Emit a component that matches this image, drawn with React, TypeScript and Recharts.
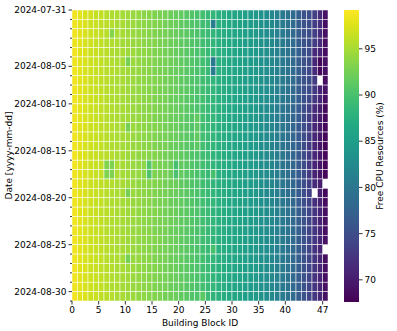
import React from 'react';
import { ScatterChart, Scatter, XAxis, YAxis, BarChart, Bar } from 'recharts';

const COLUMNS: number[] = Array.from({ length: 48 }, (_, i) => i);
const X_TICKS = [0, 5, 10, 15, 20, 25, 30, 35, 40, 47];
const Y_TICK_INDEX = [0, 6, 10, 15, 20, 25, 30];
const Y_TICK_LABELS = ['2024-07-31', '2024-08-05', '2024-08-10', '2024-08-15', '2024-08-20', '2024-08-25', '2024-08-30'];
const CB_TICKS = [70, 75, 80, 85, 90, 95];
const VMIN = 67.6;
const VMAX = 99.2;

const R00 = [98.6,97.9,97.2,96.9,96.4,96.3,95.7,95.4,95.3,94.9,94.7,94.3,94.2,93.7,93.6,93.1,92.8,92.7,92.1,91.8,91.6,91.0,90.7,90.1,89.7,88.9,88.4,87.6,87.3,86.6,86.3,85.6,85.3,84.7,84.4,83.5,83.1,82.1,81.4,80.4,79.6,78.4,77.1,75.4,75.1,73.6,71.6,69.2];
const R01 = [98.4,97.7,97.4,96.7,96.6,96.1,95.9,95.6,95.1,95.1,94.5,94.5,94.0,93.9,93.4,93.3,93.0,92.5,92.3,92.0,91.4,91.2,90.5,90.3,89.5,89.1,81.0,87.8,87.1,86.8,86.1,85.8,85.1,84.9,84.2,83.7,82.9,82.3,81.2,80.6,79.4,78.6,76.9,75.6,74.9,73.4,71.9,68.9];
const R02 = [98.5,97.8,97.3,96.8,96.5,96.2,95.8,93.4,95.2,95.0,94.6,94.4,94.1,93.8,93.5,93.2,92.9,92.6,92.2,91.9,91.5,91.1,90.6,90.2,89.6,89.0,88.3,87.7,87.2,86.7,86.2,85.7,85.2,84.8,84.3,83.6,83.0,82.2,81.3,80.5,79.5,78.5,77.0,75.5,75.0,73.5,71.5,69.0];
const R03 = [98.3,97.9,97.2,96.9,96.4,96.2,95.7,95.5,95.3,94.8,94.7,94.3,94.2,93.7,93.4,93.3,92.8,92.7,92.1,92.0,91.4,91.2,90.5,90.3,89.5,89.1,88.2,87.8,87.1,86.8,86.1,85.8,85.1,84.9,84.2,83.7,82.9,82.3,81.2,80.6,79.4,78.6,76.9,75.6,74.9,73.4,71.7,69.1];
const R04 = [98.6,97.7,97.4,96.7,96.6,96.1,95.9,95.4,95.1,95.1,94.5,94.5,94.0,93.9,93.6,93.1,93.0,92.5,92.3,91.8,91.6,91.0,90.7,90.1,89.7,88.9,88.4,87.6,87.3,86.6,86.3,85.6,85.3,84.7,84.4,83.5,83.1,82.1,81.4,80.4,79.6,78.4,77.1,75.4,74.8,71.5,70.8,68.8];
const R05 = [98.4,97.8,97.3,96.8,96.5,96.2,95.8,95.5,95.2,95.0,92.6,94.4,94.1,93.8,93.5,93.2,92.9,92.6,92.2,91.9,91.5,91.1,90.6,90.2,89.6,89.0,80.5,87.7,87.2,86.7,86.2,85.7,85.2,84.8,84.3,83.6,83.0,82.2,81.3,80.5,79.5,78.5,77.0,75.5,74.7,71.2,68.2,69.0];
const R06 = [98.5,97.9,97.2,96.9,96.4,96.3,95.7,95.6,95.3,94.9,94.7,94.3,94.2,93.7,93.6,93.1,92.8,92.7,92.1,91.8,91.6,91.0,90.7,90.1,89.7,88.9,80.8,87.6,87.3,86.6,86.3,85.6,85.3,84.7,84.4,83.5,83.1,82.1,81.4,80.4,79.6,78.4,77.1,75.4,74.6,71.4,68.4,68.8];
const R07 = [98.6,97.7,97.4,96.7,96.6,96.1,95.9,95.4,95.1,95.1,94.5,94.5,94.0,93.9,93.4,93.3,93.0,92.5,92.3,92.0,91.4,91.2,90.5,90.3,89.5,89.1,88.2,87.8,87.1,86.8,86.1,85.8,85.1,84.9,84.2,83.7,82.9,82.3,81.2,80.6,79.4,78.6,76.9,75.6,74.9,73.2,null,68.7];
const R08 = [98.4,97.8,97.3,96.8,96.5,96.2,95.8,95.5,95.2,95.0,94.6,94.4,94.1,93.8,93.5,93.2,92.9,92.6,92.2,91.9,91.5,91.1,90.6,90.2,89.6,89.0,88.3,87.7,87.2,86.7,86.2,85.7,85.2,84.8,84.3,83.6,83.0,82.2,81.3,80.5,79.5,78.5,77.0,75.5,74.8,73.0,70.9,69.2];
const R09 = [98.5,97.9,97.2,96.9,96.4,96.3,95.7,95.4,95.3,94.9,94.7,94.3,94.2,93.7,93.6,93.1,92.8,92.7,92.1,91.8,91.6,91.0,90.7,90.1,89.7,88.9,88.4,87.6,87.3,86.6,86.3,85.6,85.3,84.7,84.4,83.5,83.1,82.1,81.4,80.4,79.6,78.4,77.1,75.4,74.5,72.8,71.2,68.9];
const R10 = [98.5,97.8,97.3,96.8,96.5,96.2,95.8,95.5,95.2,95.0,94.6,94.4,94.1,93.8,93.5,93.2,92.9,92.6,92.2,91.9,91.5,91.1,90.6,90.2,89.6,89.0,88.3,87.7,87.2,86.7,86.2,85.7,85.2,84.8,84.3,83.3,82.6,81.8,80.9,80.0,79.0,78.0,76.6,75.0,73.6,71.6,70.2,68.4];
const R11 = [98.4,97.9,97.2,96.9,96.4,96.3,95.7,95.4,95.3,94.9,94.7,94.3,94.2,93.7,93.6,93.1,92.8,92.7,92.1,91.8,91.6,91.0,90.7,91.4,89.7,88.9,88.4,87.6,87.3,86.6,86.3,85.6,85.3,84.7,84.4,83.2,82.7,81.7,81.0,79.9,79.1,77.9,76.7,74.9,73.4,71.4,70.0,68.3];
const R12 = [98.6,97.7,97.4,96.7,96.6,96.1,95.9,95.6,95.1,95.1,92.6,94.5,94.0,93.9,93.4,93.3,93.0,92.5,92.3,92.0,91.4,91.2,90.5,91.3,89.5,89.1,88.2,87.8,87.1,86.8,86.1,85.8,85.1,84.9,84.2,83.4,82.5,81.9,80.8,80.1,78.9,78.1,76.5,75.1,73.5,71.3,69.8,68.2];
const R13 = [98.5,97.8,97.3,96.8,96.5,96.2,95.8,95.5,95.2,95.0,94.6,94.4,94.1,93.8,93.5,93.2,92.9,92.6,92.2,91.9,91.5,91.1,90.6,91.4,89.6,89.0,88.3,87.7,87.2,86.7,86.2,85.7,85.2,84.8,84.3,83.3,82.6,81.8,80.9,80.0,79.0,78.0,76.6,75.0,73.3,71.2,69.6,68.1];
const R14 = [98.4,97.9,97.2,96.9,96.4,96.3,95.7,95.4,95.3,94.9,94.7,94.3,94.2,93.7,93.6,93.1,92.8,92.7,92.1,91.8,91.6,91.0,90.7,91.2,89.7,88.9,88.4,87.6,87.3,86.6,86.3,85.6,85.3,84.7,84.4,83.2,82.7,81.7,81.0,79.9,79.1,77.9,76.7,74.9,73.2,71.0,69.5,68.0];
const R15 = [98.6,97.7,97.4,96.7,96.6,96.1,95.9,95.6,95.1,95.1,94.5,94.5,94.0,93.9,93.4,93.3,93.0,92.5,92.3,92.0,91.4,91.2,90.5,90.3,89.5,89.1,88.2,87.8,87.1,86.8,86.1,85.8,85.1,84.9,84.2,83.4,82.5,81.9,80.8,80.1,78.9,78.1,76.5,75.1,73.4,71.2,69.7,68.2];
const R16 = [98.5,97.8,97.3,96.8,96.5,96.2,93.2,93.0,95.2,95.0,94.6,94.4,94.1,93.8,90.6,93.2,92.9,92.6,92.2,89.8,91.5,91.1,90.6,90.2,89.6,89.0,88.3,87.7,87.2,86.7,86.2,85.7,85.2,84.8,84.3,83.3,82.6,81.8,80.9,80.0,79.0,78.0,76.6,75.0,73.0,70.9,69.5,68.0];
const R17 = [98.4,97.9,97.2,96.9,96.4,96.3,93.0,93.1,95.3,94.9,94.7,94.3,94.2,93.7,90.4,93.1,92.8,92.7,92.1,90.0,91.6,91.0,90.7,90.1,89.7,88.9,89.9,87.6,87.3,86.6,86.3,85.6,85.3,84.7,84.4,83.2,82.7,81.7,81.0,79.9,79.1,77.9,76.7,74.9,73.1,70.8,69.4,68.1];
const R18 = [98.6,97.7,97.4,96.7,96.6,96.1,95.9,95.6,95.1,95.1,94.5,94.5,94.0,93.9,93.4,93.3,93.0,92.5,92.3,92.0,91.4,91.2,90.5,90.3,89.5,89.1,88.2,87.8,87.1,86.8,86.1,85.8,85.1,84.9,84.2,83.4,82.5,81.9,80.8,80.1,78.9,78.1,76.5,75.1,73.5,71.5,70.1,null];
const R19 = [98.5,97.8,97.3,96.8,96.5,96.2,95.8,95.5,95.2,95.0,92.7,94.4,94.1,93.8,93.5,93.2,92.9,92.6,92.2,91.9,91.5,91.1,90.6,90.2,89.6,89.0,88.3,87.7,87.2,86.7,86.2,85.7,85.2,84.8,84.3,83.3,82.6,81.8,80.9,80.0,79.0,78.0,76.6,75.0,73.6,null,70.4,68.3];
const R20 = [98.4,97.9,97.2,96.9,96.4,96.3,95.7,95.4,95.3,94.9,94.7,94.3,94.2,93.7,93.6,93.1,92.8,92.7,92.1,91.8,91.6,91.0,90.7,90.1,89.7,88.9,88.4,87.6,87.3,86.6,86.3,85.6,85.3,84.7,84.4,83.4,82.8,81.9,81.1,80.2,79.3,78.2,76.8,75.2,73.8,72.0,70.6,68.5];
const R21 = [98.6,97.7,97.4,96.7,96.6,96.1,95.9,95.6,95.1,95.1,94.5,94.5,94.0,93.9,93.4,93.3,93.0,92.5,92.3,92.0,91.4,91.2,90.5,90.3,89.5,89.1,88.2,87.8,87.1,86.8,86.1,85.8,85.1,84.9,84.2,83.7,82.9,82.3,81.2,80.6,79.4,78.6,76.9,75.6,74.1,72.6,71.0,68.9];
const R22 = [98.5,97.8,97.3,96.8,96.5,96.2,95.8,95.5,95.2,95.0,94.6,94.4,94.1,93.8,93.5,93.2,92.9,92.6,92.2,91.9,91.5,91.1,90.6,90.2,89.6,89.0,88.3,87.7,87.2,86.7,86.2,85.7,85.2,84.8,84.3,83.6,83.0,82.2,81.3,80.5,79.5,78.5,77.0,75.5,73.9,72.4,70.8,69.0];
const R23 = [98.4,97.9,97.2,96.9,96.4,96.3,95.7,95.4,95.3,94.9,94.7,94.3,94.2,93.7,93.6,93.1,92.8,92.7,92.1,91.8,91.6,91.0,90.7,90.1,89.7,88.9,88.4,87.6,87.3,86.6,86.3,85.6,85.3,84.7,84.4,83.5,83.1,82.1,81.4,80.4,79.6,78.4,77.1,75.4,74.0,72.5,71.1,68.8];
const R24 = [98.6,97.7,97.4,96.7,96.6,96.1,95.9,95.6,95.1,95.1,94.5,94.5,94.0,93.9,93.4,93.3,93.0,92.5,92.3,92.0,91.4,91.2,90.5,90.3,89.5,89.1,88.2,87.8,87.1,86.8,86.1,85.8,85.1,84.9,84.2,83.7,82.9,82.3,81.2,80.6,79.4,78.6,76.9,75.6,74.2,72.7,71.2,69.1];
const R25 = [98.5,97.8,97.3,96.8,96.5,96.2,95.8,95.5,95.2,95.0,94.6,94.4,94.1,93.8,93.5,93.2,92.9,92.6,92.2,91.9,91.5,91.1,90.6,90.2,89.6,89.0,89.9,87.7,87.2,86.7,86.2,85.7,85.2,84.8,84.3,83.6,83.0,82.2,81.3,80.5,79.5,78.5,77.0,75.5,73.9,72.3,70.9,null];
const R26 = [98.4,97.9,97.2,96.9,96.4,96.3,95.7,95.4,95.3,94.9,92.6,94.3,94.2,93.7,93.6,93.1,92.8,92.7,92.1,91.8,91.6,91.0,90.7,90.1,89.7,88.9,88.4,87.6,87.3,86.6,86.3,85.6,85.3,84.7,84.4,83.5,83.1,82.1,81.4,80.4,79.6,78.4,77.1,75.4,74.0,72.5,71.0,68.9];
const R27 = [98.6,97.7,97.4,96.7,96.6,96.1,95.9,95.6,95.1,95.1,94.5,94.5,94.0,93.9,93.4,93.3,93.0,92.5,92.3,92.0,91.4,91.2,90.5,90.3,89.5,89.1,88.2,87.8,87.1,86.8,86.1,85.8,85.1,84.9,84.2,83.7,82.9,82.3,81.2,80.6,79.4,78.6,76.9,75.6,74.1,72.6,71.1,69.0];
const R28 = [98.5,97.8,97.3,96.8,96.5,96.2,95.8,95.5,95.2,95.0,94.6,94.4,94.1,93.8,93.5,93.2,92.9,92.6,92.2,91.9,91.5,91.1,90.6,90.2,89.6,89.0,88.3,87.7,87.2,86.7,86.2,85.7,85.2,84.8,84.3,83.6,83.0,82.2,81.3,80.5,79.5,78.5,77.0,75.5,73.9,72.4,70.9,68.8];
const R29 = [98.4,97.9,97.2,96.9,96.4,96.3,95.7,95.4,95.3,94.9,94.7,94.3,94.2,93.7,93.6,93.1,92.8,92.7,92.1,91.8,91.6,91.0,90.7,90.1,89.7,88.9,88.4,87.6,87.3,86.6,86.3,85.6,85.3,84.7,84.4,83.5,83.1,82.1,81.4,80.4,79.6,78.4,77.1,75.4,74.0,72.5,71.1,69.1];
const R30 = [98.6,97.7,97.4,96.7,96.6,96.1,95.9,95.6,95.1,95.1,94.5,94.5,94.0,93.9,93.4,93.3,93.0,92.5,92.3,92.0,91.4,91.2,90.5,90.3,91.2,89.1,88.2,87.8,87.1,86.8,86.1,85.8,85.1,84.9,84.2,83.7,82.9,82.3,81.2,80.6,79.4,78.6,76.9,75.6,74.2,72.7,71.2,69.0];

const ROWS: (number | null)[][] = [R00,R01,R02,R03,R04,R05,R06,R07,R08,R09,R10,R11,R12,R13,R14,R15,R16,R17,R18,R19,R20,R21,R22,R23,R24,R25,R26,R27,R28,R29,R30];

const VIRIDIS = ['#440154','#471365','#482475','#46337f','#414487','#3b528b','#355f8d','#2f6c8e','#2a788e','#25858e','#21918c','#1f9e89','#22a884','#2fb47c','#44bf70','#5ec962','#7ad151','#9bd93c','#bddf26','#dfe318','#fde725'];

function hexToRgb(h: string) {
  return [parseInt(h.slice(1, 3), 16), parseInt(h.slice(3, 5), 16), parseInt(h.slice(5, 7), 16)];
}
function viridis(v: number) {
  let t = (v - VMIN) / (VMAX - VMIN);
  t = Math.max(0, Math.min(1, t));
  const p = t * (VIRIDIS.length - 1);
  const i = Math.min(Math.floor(p), VIRIDIS.length - 2);
  const f = p - i;
  const a = hexToRgb(VIRIDIS[i]);
  const b = hexToRgb(VIRIDIS[i + 1]);
  const c = a.map((x, k) => Math.round(x + (b[k] - x) * f));
  return `rgb(${c[0]},${c[1]},${c[2]})`;
}

const cells: { x: number; y: number; v: number }[] = [];
ROWS.forEach((row, r) => {
  COLUMNS.forEach((c) => {
    const v = row[c];
    if (v !== null && v !== undefined) cells.push({ x: c + 0.5, y: r + 0.5, v });
  });
});

const FONT = 'DejaVu Sans, sans-serif';
const CHART_W = 340;
const CHART_H = 331;
const MARGIN = { top: 10, right: 12, bottom: 0, left: 10 };
const YAXIS_W = 62;
const XAXIS_H = 30;
const PLOT_W = CHART_W - MARGIN.left - MARGIN.right - YAXIS_W;
const PLOT_H = CHART_H - MARGIN.top - MARGIN.bottom - XAXIS_H;
const CELL_W = PLOT_W / COLUMNS.length;
const CELL_H = PLOT_H / ROWS.length;

const CellShape = (props: any) => {
  const { cx, cy, payload } = props;
  if (cx == null || cy == null) return null;
  return (
    <rect
      x={cx - CELL_W / 2}
      y={cy - CELL_H / 2}
      width={CELL_W}
      height={CELL_H}
      fill={viridis(payload.v)}
      stroke="#ffffff"
      strokeOpacity={0.85}
      strokeWidth={0.6}
    />
  );
};

const YTick = (props: any) => {
  const { x, y, payload } = props;
  const idx = Y_TICK_INDEX.indexOf(payload.value);
  const label = idx >= 0 ? Y_TICK_LABELS[idx] : '';
  const len = label ? 3.5 : 2;
  return (
    <g>
      <line x1={x} x2={x - len} y1={y} y2={y} stroke="#000" strokeWidth={0.8} />
      {label && (
        <text x={x - 5.5} y={y} dy="0.35em" textAnchor="end" fontSize={9} fontFamily={FONT} fill="#000">
          {label}
        </text>
      )}
    </g>
  );
};

const XTick = (props: any) => {
  const { x, y, payload } = props;
  return (
    <g>
      <line x1={x} x2={x} y1={y} y2={y + 3.5} stroke="#000" strokeWidth={0.8} />
      <text x={x} y={y + 5.5} dy="0.75em" textAnchor="middle" fontSize={9} fontFamily={FONT} fill="#000">
        {payload.value}
      </text>
    </g>
  );
};

const CbTick = (props: any) => {
  const { x, y, payload } = props;
  return (
    <g>
      <line x1={x} x2={x + 3.5} y1={y} y2={y} stroke="#000" strokeWidth={0.8} />
      <text x={x + 5.5} y={y} dy="0.35em" textAnchor="start" fontSize={9} fontFamily={FONT} fill="#000">
        {payload.value}
      </text>
    </g>
  );
};

const CB_DATA = [{ k: 'cb', v: [VMIN, VMAX] }];

export default function App() {
  return (
    <div style={{ position: 'absolute', left: 0, top: 0, width: 397, height: 331, background: '#fff' }}>
      <div style={{ position: 'absolute', left: 0, top: 0 }}>
        <ScatterChart width={CHART_W} height={CHART_H} margin={MARGIN}>
          <XAxis
            type="number"
            dataKey="x"
            domain={[0, 48]}
            ticks={X_TICKS}
            interval={0}
            height={XAXIS_H}
            axisLine={false}
            tickLine={false}
            tickSize={0}
            tickMargin={0}
            tick={<XTick />}
            allowDataOverflow
            label={{
              content: (p: any) => {
                const vb = p.viewBox;
                return (
                  <text x={vb.x + vb.width / 2} y={vb.y + 25} textAnchor="middle" fontSize={9} fontFamily={FONT} fill="#000">
                    Building Block ID
                  </text>
                );
              },
            }}
          />
          <YAxis
            type="number"
            dataKey="y"
            domain={[0, 31]}
            ticks={Array.from({ length: 32 }, (_, i) => i)}
            interval={0}
            reversed
            width={YAXIS_W}
            axisLine={false}
            tickLine={false}
            tickSize={0}
            tickMargin={0}
            tick={<YTick />}
            allowDataOverflow
            label={{
              content: (p: any) => {
                const vb = p.viewBox;
                const cx = 9;
                const cy = vb.y + vb.height / 2;
                return (
                  <text x={cx} y={cy} dy="0.35em" textAnchor="middle" fontSize={9} fontFamily={FONT} fill="#000" transform={`rotate(-90 ${cx} ${cy})`}>
                    Date [yyyy-mm-dd]
                  </text>
                );
              },
            }}
          />
          <Scatter data={cells} shape={<CellShape />} isAnimationActive={false} />
        </ScatterChart>
      </div>
      <div style={{ position: 'absolute', left: 330, top: 0 }}>
        <BarChart width={67} height={331} data={CB_DATA} margin={{ top: 10, right: 0, bottom: 29, left: 14 }} barCategoryGap={0}>
          <defs>
            <linearGradient id="viridisGrad" x1="0" y1="1" x2="0" y2="0">
              {VIRIDIS.map((c, i) => (
                <stop key={i} offset={`${(i / (VIRIDIS.length - 1)) * 100}%`} stopColor={c} />
              ))}
            </linearGradient>
          </defs>
          <XAxis dataKey="k" type="category" hide />
          <YAxis
            orientation="right"
            type="number"
            domain={[VMIN, VMAX]}
            ticks={CB_TICKS}
            interval={0}
            width={38}
            axisLine={false}
            tickLine={false}
            tickSize={0}
            tickMargin={0}
            tick={<CbTick />}
            allowDataOverflow
            label={{
              content: (p: any) => {
                const vb = p.viewBox;
                const cx = 50;
                const cy = vb.y + vb.height / 2;
                return (
                  <text x={cx} y={cy} dy="0.35em" textAnchor="middle" fontSize={9} fontFamily={FONT} fill="#000" transform={`rotate(-90 ${cx} ${cy})`}>
                    Free CPU Resources (%)
                  </text>
                );
              },
            }}
          />
          <Bar dataKey="v" fill="url(#viridisGrad)" isAnimationActive={false} />
        </BarChart>
      </div>
    </div>
  );
}
